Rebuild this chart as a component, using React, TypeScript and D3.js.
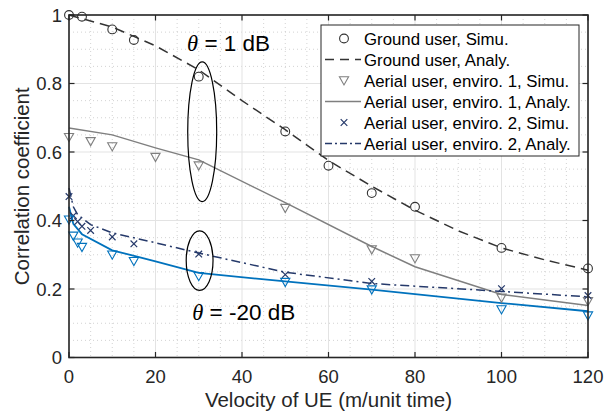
import React from "react";
import * as d3 from "d3";

// ---------- data ----------
const groundSimuV = [0, 3, 10, 15, 30, 50, 60, 70, 80, 100, 120];
const groundSimuC = [1.0, 0.995, 0.958, 0.927, 0.82, 0.66, 0.56, 0.48, 0.44, 0.32, 0.26];
const groundAnalyV = [0, 10, 20, 30, 40, 50, 60, 70, 80, 90, 100, 110, 120];
const groundAnalyC = [1.0, 0.965, 0.91, 0.84, 0.75, 0.665, 0.575, 0.5, 0.43, 0.37, 0.32, 0.285, 0.255];

const env1SimuV = [0, 5, 10, 20, 30, 50, 70, 80, 100, 120];
const env1SimuC = [0.643, 0.631, 0.616, 0.585, 0.56, 0.436, 0.315, 0.289, 0.174, 0.164];
const env1AnalyV = [0, 10, 20, 30, 50, 70, 80, 100, 120];
const env1AnalyC = [0.67, 0.65, 0.612, 0.577, 0.452, 0.324, 0.265, 0.184, 0.152];

const env2SimuV = [0, 1, 2, 3, 5, 10, 15, 30, 50, 70, 100, 120];
const env2SimuC = [0.47, 0.414, 0.397, 0.383, 0.371, 0.352, 0.332, 0.302, 0.242, 0.222, 0.201, 0.181];
const env2AnalyV = [0, 1, 2, 5, 10, 20, 30, 50, 70, 100, 120];
const env2AnalyC = [0.495, 0.44, 0.417, 0.388, 0.364, 0.335, 0.305, 0.249, 0.216, 0.193, 0.177];

const lowSimuV = [0, 1, 2, 3, 10, 15, 30, 50, 70, 100, 120];
const lowSimuC = [0.402, 0.355, 0.335, 0.322, 0.3, 0.281, 0.237, 0.22, 0.198, 0.14, 0.122];
const lowAnalyV = [0, 1, 3, 10, 20, 30, 50, 70, 100, 120];
const lowAnalyC = [0.44, 0.39, 0.36, 0.313, 0.281, 0.247, 0.222, 0.198, 0.159, 0.135];

const xTicks = [0, 20, 40, 60, 80, 100, 120];
const yTicks = [0, 0.2, 0.4, 0.6, 0.8, 1];
const yTickLabels = ["0", "0.2", "0.4", "0.6", "0.8", "1"];

const legendLabels = [
  "Ground user, Simu.",
  "Ground user, Analy.",
  "Aerial user, enviro. 1, Simu.",
  "Aerial user, enviro. 1, Analy.",
  "Aerial user, enviro. 2, Simu.",
  "Aerial user, enviro. 2, Analy.",
];

// annotation ellipses: [centerV, centerC, halfWidthV, halfHeightC]
const ellipseCenterV = [30.8, 30.2];
const ellipseCenterC = [0.659, 0.283];
const ellipseHalfV = [3.35, 3.1];
const ellipseHalfC = [0.204, 0.087];

const annotTexts = ["= 1 dB", "= -20 dB"];
const annotV = [27.3, 28.5];
const annotC = [0.896, 0.11];

// ---------- layout ----------
const W = 613;
const H = 411;
const M = { left: 69, right: 588, top: 15, bottom: 357.5 };
const FONT = "'Liberation Sans', Arial, Helvetica, sans-serif";
const AX = "#262626";

const C_GROUND = "#333333";
const C_GRAY = "#7f7f7f";
const C_NAVY = "#25396a";
const C_BLUE = "#0072BD";

const x = d3.scaleLinear().domain([0, 120]).range([M.left, M.right]);
const y = d3.scaleLinear().domain([0, 1]).range([M.bottom, M.top]);

const zip = (a: number[], b: number[]) => a.map((v, i) => [v, b[i]] as [number, number]);
const lineGen = d3
  .line<[number, number]>()
  .x((d) => x(d[0]))
  .y((d) => y(d[1]));

const tri = "M-4.6,-3.8L4.6,-3.8L0,4.4Z";

function Circle({ cx, cy, color }: { cx: number; cy: number; color: string }) {
  return <circle cx={cx} cy={cy} r={4.4} fill="none" stroke={color} strokeWidth={1.1} />;
}
function Tri({ cx, cy, color }: { cx: number; cy: number; color: string }) {
  return <path d={tri} transform={`translate(${cx},${cy})`} fill="none" stroke={color} strokeWidth={1.1} />;
}
function Cross({ cx, cy, color }: { cx: number; cy: number; color: string }) {
  const s = 3.3;
  return (
    <path
      d={`M${cx - s},${cy - s}L${cx + s},${cy + s}M${cx - s},${cy + s}L${cx + s},${cy - s}`}
      stroke={color}
      strokeWidth={1.2}
    />
  );
}

export default function App() {
  const minorX = d3.range(0, 120.01, 5).filter((v) => v % 20 !== 0);
  const minorY = d3.range(0, 1.001, 0.05).map((v) => +v.toFixed(2)).filter((v) => Math.round(v * 100) % 20 !== 0);

  const legendBox = { x: 321, y: 25, w: 258, h: 131 };
  const rowY = (i: number) => 38.5 + i * 21;

  return (
    <svg
      width={W}
      height={H}
      style={{ position: "fixed", left: 0, top: 0, background: "#fff" }}
      fontFamily={FONT}
    >
      <rect x={0} y={0} width={W} height={H} fill="#fff" />
      {/* minor grid */}
      {minorX.map((v) => (
        <line key={"mx" + v} x1={x(v)} x2={x(v)} y1={M.top} y2={M.bottom} stroke="#c8c8c8" strokeWidth={0.8} strokeDasharray="1,3" />
      ))}
      {minorY.map((v) => (
        <line key={"my" + v} x1={M.left} x2={M.right} y1={y(v)} y2={y(v)} stroke="#c8c8c8" strokeWidth={0.8} strokeDasharray="1,3" />
      ))}
      {/* major grid */}
      {xTicks.map((v) => (
        <line key={"gx" + v} x1={x(v)} x2={x(v)} y1={M.top} y2={M.bottom} stroke="#e3e3e3" strokeWidth={1} />
      ))}
      {yTicks.map((v) => (
        <line key={"gy" + v} x1={M.left} x2={M.right} y1={y(v)} y2={y(v)} stroke="#e3e3e3" strokeWidth={1} />
      ))}

      {/* analytic lines */}
      <path d={lineGen(zip(groundAnalyV, groundAnalyC)) || ""} fill="none" stroke={C_GROUND} strokeWidth={1.5} strokeDasharray="10,6" />
      <path d={lineGen(zip(env1AnalyV, env1AnalyC)) || ""} fill="none" stroke={C_GRAY} strokeWidth={1.5} />
      <path d={lineGen(zip(env2AnalyV, env2AnalyC)) || ""} fill="none" stroke={C_NAVY} strokeWidth={1.5} strokeDasharray="9,4,2,4" />
      <path d={lineGen(zip(lowAnalyV, lowAnalyC)) || ""} fill="none" stroke={C_BLUE} strokeWidth={1.8} />

      {/* simulation markers */}
      {groundSimuV.map((v, i) => (
        <Circle key={"gs" + i} cx={x(v)} cy={y(groundSimuC[i])} color={C_GROUND} />
      ))}
      {env1SimuV.map((v, i) => (
        <Tri key={"e1" + i} cx={x(v)} cy={y(env1SimuC[i])} color={C_GRAY} />
      ))}
      {env2SimuV.map((v, i) => (
        <Cross key={"e2" + i} cx={x(v)} cy={y(env2SimuC[i])} color={C_NAVY} />
      ))}
      {lowSimuV.map((v, i) => (
        <Tri key={"lo" + i} cx={x(v)} cy={y(lowSimuC[i])} color={C_BLUE} />
      ))}

      {/* ellipses */}
      {ellipseCenterV.map((v, i) => (
        <ellipse
          key={"el" + i}
          cx={x(v)}
          cy={y(ellipseCenterC[i])}
          rx={x(v + ellipseHalfV[i]) - x(v)}
          ry={y(0) - y(ellipseHalfC[i])}
          fill="none"
          stroke="#000"
          strokeWidth={1.2}
        />
      ))}

      {/* annotation text */}
      {annotTexts.map((t, i) => (
        <text key={"at" + i} x={x(annotV[i])} y={y(annotC[i])} fontSize={22.5} fill="#000">
          <tspan fontFamily="'Liberation Serif', 'Times New Roman', serif" fontStyle="italic">θ</tspan>
          <tspan> {t}</tspan>
        </text>
      ))}

      {/* axes box */}
      <rect x={M.left} y={M.top} width={M.right - M.left} height={M.bottom - M.top} fill="none" stroke={AX} strokeWidth={1.6} />
      {xTicks.map((v) => (
        <g key={"tx" + v}>
          <line x1={x(v)} x2={x(v)} y1={M.bottom} y2={M.bottom - 5.5} stroke={AX} strokeWidth={1.2} />
          <line x1={x(v)} x2={x(v)} y1={M.top} y2={M.top + 5.5} stroke={AX} strokeWidth={1.2} />
          <text x={x(v)} y={383} textAnchor="middle" fontSize={18.5} fill={AX}>
            {v}
          </text>
        </g>
      ))}
      {yTicks.map((v, i) => (
        <g key={"ty" + v}>
          <line x1={M.left} x2={M.left + 5.5} y1={y(v)} y2={y(v)} stroke={AX} strokeWidth={1.2} />
          <line x1={M.right} x2={M.right - 5.5} y1={y(v)} y2={y(v)} stroke={AX} strokeWidth={1.2} />
          <text x={62} y={y(v) + 6.6} textAnchor="end" fontSize={18.5} fill={AX}>
            {yTickLabels[i]}
          </text>
        </g>
      ))}

      {/* axis labels */}
      <text x={(M.left + M.right) / 2} y={407} textAnchor="middle" fontSize={20.5} fill={AX}>
        Velocity of UE (m/unit time)
      </text>
      <text
        transform={`translate(29,${(M.top + M.bottom) / 2}) rotate(-90)`}
        textAnchor="middle"
        fontSize={20.5}
        fill={AX}
      >
        Correlation coefficient
      </text>

      {/* legend */}
      <rect x={legendBox.x} y={legendBox.y} width={legendBox.w} height={legendBox.h} fill="#fff" stroke={AX} strokeWidth={1} />
      {legendLabels.map((lab, i) => {
        const cy = rowY(i);
        let sample: React.ReactNode = null;
        if (i === 0) sample = <Circle cx={344} cy={cy} color={C_GROUND} />;
        if (i === 1) sample = <line x1={325} x2={361} y1={cy} y2={cy} stroke={C_GROUND} strokeWidth={1.5} strokeDasharray="9,6" />;
        if (i === 2) sample = <Tri cx={344} cy={cy} color={C_GRAY} />;
        if (i === 3) sample = <line x1={325} x2={361} y1={cy} y2={cy} stroke={C_GRAY} strokeWidth={1.5} />;
        if (i === 4) sample = <Cross cx={344} cy={cy} color={C_NAVY} />;
        if (i === 5) sample = <line x1={325} x2={361} y1={cy} y2={cy} stroke={C_NAVY} strokeWidth={1.5} strokeDasharray="7,3,2,3" />;
        return (
          <g key={"lg" + i}>
            {sample}
            <text x={364} y={cy + 6} fontSize={16.8} fill="#000">
              {lab}
            </text>
          </g>
        );
      })}
    </svg>
  );
}
